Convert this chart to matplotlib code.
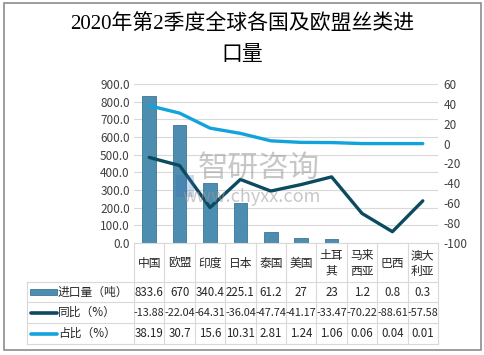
import matplotlib.pyplot as plt
from matplotlib.patches import Rectangle
from matplotlib.lines import Line2D

plt.rcParams['font.family'] = ['Noto Sans CJK SC', 'DejaVu Sans']

# data
countries = ['中国', '欧盟', '印度', '日本', '泰国', '美国', '土耳\n其', '马来\n西亚', '巴西', '澳大\n利亚']
imports = [833.6, 670, 340.4, 225.1, 61.2, 27, 23, 1.2, 0.8, 0.3]
yoy = [-13.88, -22.04, -64.31, -36.04, -47.74, -41.17, -33.47, -70.22, -88.61, -57.58]
share = [38.19, 30.7, 15.6, 10.31, 2.81, 1.24, 1.06, 0.06, 0.04, 0.01]
import_labels = ['833.6', '670', '340.4', '225.1', '61.2', '27', '23', '1.2', '0.8', '0.3']
yoy_labels = ['-13.88', '-22.04', '-64.31', '-36.04', '-47.74', '-41.17', '-33.47', '-70.22', '-88.61', '-57.58']
share_labels = ['38.19', '30.7', '15.6', '10.31', '2.81', '1.24', '1.06', '0.06', '0.04', '0.01']
row_names = ['进口量（吨）', '同比（%）', '占比（%）']

bar_color = '#4d8db0'
yoy_color = '#0c4a60'
share_color = '#12a3db'
grid_color = '#d9d9d9'
text_color = '#404040'

W, H = 484, 355
fig = plt.figure(figsize=(W / 100, H / 100), dpi=100)

# outer border of the chart
fig.patches.append(Rectangle((4 / W, 1 - 350 / H), 477 / W, 347 / H, transform=fig.transFigure,
                             fill=False, edgecolor='#8c8c8c', linewidth=1.2))

x0, x1, ytop, ybot = 134, 438, 84, 243
ax = fig.add_axes([x0 / W, 1 - ybot / H, (x1 - x0) / W, (ybot - ytop) / H])
n = len(countries)
xs = list(range(n))

ax.bar(xs, imports, width=0.45, color=bar_color, edgecolor='#3c7596', linewidth=0.6, zorder=3)
ax.set_xlim(-0.5, n - 0.5)
ax.set_ylim(0, 900)
ax.set_yticks(range(0, 901, 100))
ax.set_yticklabels(['%.1f' % v for v in range(0, 901, 100)], fontsize=8.5, color=text_color)
ax.yaxis.grid(True, color=grid_color, linewidth=0.8, zorder=0)
ax.set_xticks([])
for s in ax.spines.values():
    s.set_visible(False)
ax.tick_params(axis='y', length=0, pad=3)

ax2 = ax.twinx()
ax2.plot(xs, share, color=share_color, linewidth=2.4, solid_joinstyle='round', solid_capstyle='round', zorder=4)
ax2.plot(xs, yoy, color=yoy_color, linewidth=2.4, solid_joinstyle='round', solid_capstyle='round', zorder=4)
ax2.set_ylim(-100, 60)
ax2.set_yticks(range(-100, 61, 20))
ax2.set_yticklabels([str(v) for v in range(-100, 61, 20)], fontsize=8.5, color=text_color)
ax2.tick_params(axis='y', length=0, pad=4)
for s in ax2.spines.values():
    s.set_visible(False)

# watermark
fig.text(0.535, 0.525, '智研咨询', fontsize=22, color='#9a9a9a', alpha=0.55, ha='center', va='center')
fig.text(0.52, 0.445, 'www.chyxx.com', fontsize=13, color='#9a9a9a', alpha=0.55, ha='center', va='center')
fig.patches.append(Rectangle((176 / W, 1 - 197 / H), 18 / W, 22 / H, transform=fig.transFigure,
                             facecolor='#3a6fb5', alpha=0.25, edgecolor='none'))

# data table below the plot, in pixel coordinates
rows_y = [243, 282, 302, 323, 344]
col_w = (x1 - x0) / n
leg_x = 27

def fx(px):
    return px / W

def fy(py):
    return 1 - py / H

def hline(xa, xb, py):
    fig.lines.append(Line2D([fx(xa), fx(xb)], [fy(py), fy(py)], transform=fig.transFigure,
                            color=grid_color, linewidth=0.8))

def vline(px, ya, yb):
    fig.lines.append(Line2D([fx(px), fx(px)], [fy(ya), fy(yb)], transform=fig.transFigure,
                            color=grid_color, linewidth=0.8))

hline(x0, x1, rows_y[0])
for py in rows_y[1:]:
    hline(leg_x, x1, py)
for i in range(n + 1):
    vline(x0 + i * col_w, rows_y[0], rows_y[-1])
vline(leg_x, rows_y[1], rows_y[-1])

for i, c in enumerate(countries):
    cx = x0 + (i + 0.5) * col_w
    fig.text(fx(cx), fy((rows_y[0] + rows_y[1]) / 2 + 1), c, fontsize=8.5, color='#262626',
             ha='center', va='center', linespacing=1.25)
    for r, labels in enumerate([import_labels, yoy_labels, share_labels]):
        cy = (rows_y[r + 1] + rows_y[r + 2]) / 2
        fig.text(fx(cx), fy(cy), labels[i], fontsize=7.8 if r == 1 else 8.3, color='#262626',
                 ha='center', va='center')

# legend keys in the first column
for r, name in enumerate(row_names):
    cy = (rows_y[r + 1] + rows_y[r + 2]) / 2
    if r == 0:
        fig.patches.append(Rectangle((fx(30), fy(cy + 3)), 27 / W, 6 / H, transform=fig.transFigure,
                                     facecolor=bar_color, edgecolor='#3c7596', linewidth=0.6))
    else:
        col = yoy_color if r == 1 else share_color
        fig.lines.append(Line2D([fx(31), fx(57)], [fy(cy), fy(cy)], transform=fig.transFigure,
                                color=col, linewidth=2.6, solid_capstyle='round'))
    fig.text(fx(58), fy(cy), name, fontsize=8.5, color='#262626', ha='left', va='center')

fig.text(0.5, fy(24), '2020年第2季度全球各国及欧盟丝类进', fontsize=15, ha='center', va='center',
         family=['Liberation Serif', 'Noto Sans CJK SC'])
fig.text(0.5, fy(56), '口量', fontsize=15, ha='center', va='center',
         family=['Liberation Serif', 'Noto Sans CJK SC'])

fig.savefig('out.png', dpi=100)
